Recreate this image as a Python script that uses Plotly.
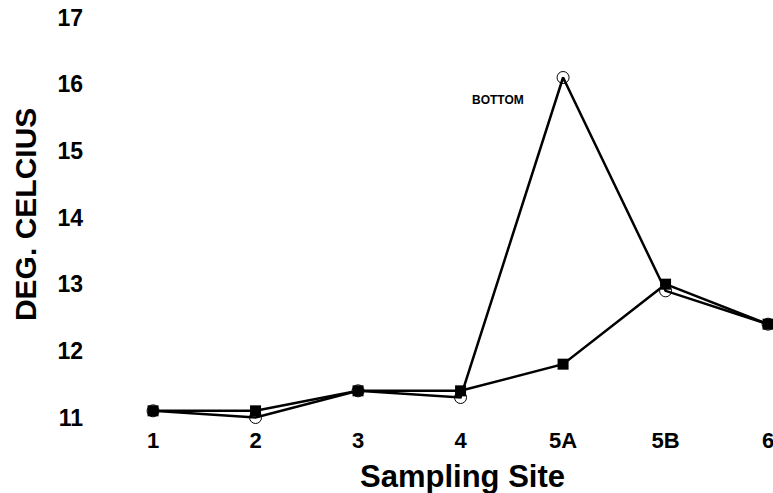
import plotly.graph_objects as go

sites = ["1", "2", "3", "4", "5A", "5B", "6"]
bottom = [11.1, 11.0, 11.4, 11.3, 16.1, 12.9, 12.4]
surface = [11.1, 11.1, 11.4, 11.4, 11.8, 13.0, 12.4]
y_ticks = [11, 12, 13, 14, 15, 16, 17]

x_idx = list(range(len(sites)))
FONT = "Liberation Sans, Arial"

fig = go.Figure()
fig.add_trace(go.Scatter(
    x=x_idx, y=bottom, mode="lines+markers", name="Bottom",
    line=dict(color="black", width=2.5),
    marker=dict(symbol="circle-open", size=12, color="black", line=dict(width=1)),
))
fig.add_trace(go.Scatter(
    x=x_idx, y=surface, mode="lines+markers", name="Surface",
    line=dict(color="black", width=2.5),
    marker=dict(symbol="square", size=11, color="black"),
))
fig.add_annotation(x=3.37, y=15.77, text="<b>BOTTOM</b>", showarrow=False,
                   font=dict(family=FONT, size=12, color="black"))
fig.add_annotation(xref="paper", yref="paper", x=0.5447, y=0, yshift=-51,
                   xanchor="center", yanchor="middle", showarrow=False,
                   text="<b>Sampling Site</b>",
                   font=dict(family=FONT, size=31, color="black"))
fig.add_annotation(xref="paper", yref="paper", x=0, xshift=-65, y=0.494,
                   xanchor="center", yanchor="middle", showarrow=False,
                   textangle=-90, text="<b>DEG. CELCIUS</b>",
                   font=dict(family=FONT, size=30, color="black"))
# last category label sits at the cut-off right edge; plotly auto-hides it, so draw it explicitly
fig.add_annotation(x=x_idx[-1], xref="x", yref="paper", y=0, yshift=-15,
                   xanchor="center", yanchor="middle", showarrow=False,
                   text="<b>" + sites[-1] + "</b>",
                   font=dict(family=FONT, size=22, color="black"))

fig.update_layout(
    width=773, height=493,
    margin=dict(l=90, r=0, t=0, b=68),
    paper_bgcolor="white", plot_bgcolor="white",
    showlegend=False,
    font=dict(family=FONT, color="black"),
    xaxis=dict(
        range=[-0.615, 6.048], tickmode="array", tickvals=x_idx[:-1], ticktext=sites[:-1],
        showgrid=False, zeroline=False, showline=False, ticks="",
        tickfont=dict(size=22, family=FONT, weight="bold"),
    ),
    yaxis=dict(
        range=[10.8875, 17.2625], tickmode="array", tickvals=y_ticks,
        showgrid=False, zeroline=False, showline=False, ticks="",
        ticklabelstandoff=6,
        tickfont=dict(size=23, family=FONT, weight="bold"),
    ),
)

fig.write_html("out.html")
